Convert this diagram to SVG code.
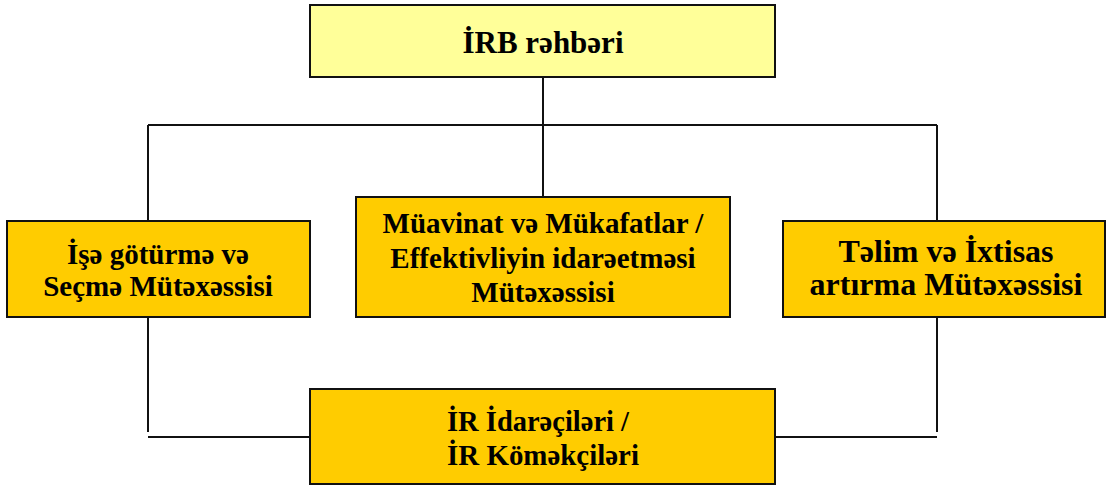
<svg xmlns="http://www.w3.org/2000/svg" width="1107" height="486" viewBox="0 0 1107 486">
<style>
.box{stroke:#111;stroke-width:2}
.top{fill:#FFFF99}
.org{fill:#FFCC00}
.t{font-family:"Liberation Serif","Times New Roman",serif;font-weight:bold;font-size:29px;text-anchor:middle;fill:#000}
.ln{stroke:#111;stroke-width:2;fill:none}
</style>
<rect width="1107" height="486" fill="#fff"/>
<g id="connectors">
<path class="ln" d="M543 77 V125 M148 125 H937 M148 125 V221 M543 125 V197 M937 125 V221"/>
<path class="ln" d="M148 318 V432 M937 318 V432 M148 437 H310 M775 437 H937"/>
</g>
<g id="n-top">
<rect class="box top" x="310" y="5" width="465" height="72"/>
<text class="t" x="543" y="53" style="font-size:31px">İRB rəhbəri</text>
</g>
<g id="n-left">
<rect class="box org" x="7" y="221" width="303" height="96"/>
<text class="t" x="158" y="264">İşə götürmə və</text>
<text class="t" x="158" y="296">Seçmə Mütəxəssisi</text>
</g>
<g id="n-mid">
<rect class="box org" x="356" y="197" width="374" height="120"/>
<text class="t" x="543" y="233">Müavinat və Mükafatlar /</text>
<text class="t" x="543" y="268">Effektivliyin idarəetməsi</text>
<text class="t" x="543" y="302">Mütəxəssisi</text>
</g>
<g id="n-right">
<rect class="box org" x="783" y="221" width="322" height="96"/>
<text class="t" x="946" y="262" style="font-size:32px">Təlim və İxtisas</text>
<text class="t" x="946" y="295" style="font-size:32px">artırma Mütəxəssisi</text>
</g>
<g id="n-bottom">
<rect class="box org" x="310" y="389" width="465" height="95"/>
<text class="t" x="538" y="431" textLength="182" lengthAdjust="spacingAndGlyphs">İR İdarəçiləri /</text>
<text class="t" x="543" y="465" textLength="192" lengthAdjust="spacingAndGlyphs">İR Köməkçiləri</text>
</g>
</svg>
